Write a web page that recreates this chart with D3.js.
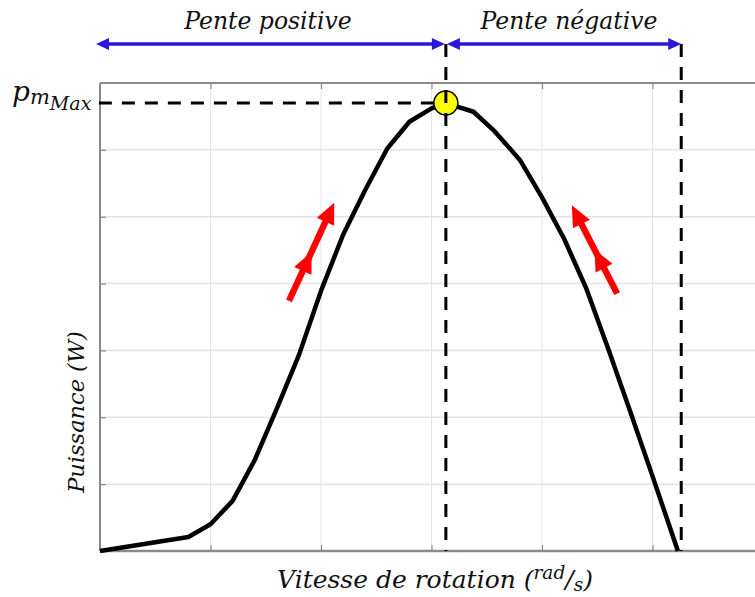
<!DOCTYPE html>
<html>
<head>
<meta charset="utf-8">
<script src="https://cdn.jsdelivr.net/npm/d3@7"></script>
<style>
  html, body { margin: 0; padding: 0; background: #fff; }
  svg { display: block; }
  .lbl { font-family: "DejaVu Serif", serif; font-style: italic; fill: #111; }
</style>
</head>
<body>
<svg id="chart" width="755" height="597"></svg>
<script>
// Power curve P(ω), rotation speed in arbitrary units
const speed = [0, 0.8, 1.0, 1.2, 1.4, 1.6, 1.8, 2.0, 2.2, 2.4, 2.6, 2.8, 3.0, 3.13, 3.38, 3.57, 3.8, 4.0, 4.2, 4.4, 4.6, 4.8, 5.0, 5.23];
const power = [0, 0.21, 0.40, 0.75, 1.36, 2.13, 2.93, 3.89, 4.73, 5.40, 6.02, 6.42, 6.62, 6.70, 6.57, 6.28, 5.85, 5.29, 4.67, 3.93, 3.02, 2.08, 1.12, 0];

// Maximum power point and the end of the working range
const peakSpeed = 3.13;
const peakPower = 6.70;
const endSpeed = 5.26;

// Grid ticks
const xTicks = [1, 2, 3, 4, 5];
const yTicks = [1, 2, 3, 4, 5, 6];

// Region labels above the plot
const regions = ["Pente positive", "Pente négative"];

// Direction arrows along the curve: [tailX, tailY, headX, headY] in data units
const climbArrows = [
  [1.71, 3.74, 2.12, 5.21],
  [4.68, 3.85, 4.27, 5.17]
];

const svg = d3.select("#chart");
const x = d3.scaleLinear().domain([0, 6]).range([100, 763]);
const y = d3.scaleLinear().domain([0, 7]).range([551, 83]);
const x0 = x(0), x1 = x(6), yTop = y(7), yBot = y(0);

// grid
const g = svg.append("g");
g.selectAll("line.vg").data(xTicks).join("line")
  .attr("x1", d => x(d)).attr("x2", d => x(d))
  .attr("y1", yTop).attr("y2", yBot)
  .attr("stroke", "#e3e3e3").attr("stroke-width", 1);
g.selectAll("line.hg").data(yTicks).join("line")
  .attr("x1", x0).attr("x2", x1)
  .attr("y1", d => y(d)).attr("y2", d => y(d))
  .attr("stroke", "#e3e3e3").attr("stroke-width", 1.5);

// axes frame with inward ticks
const axisColor = "#8a8a8a";
const axLeft = d3.axisLeft(y).tickValues(yTicks).tickSize(-6).tickFormat("");
const axBottom = d3.axisBottom(x).tickValues(xTicks).tickSize(-6).tickFormat("");
const axTop = d3.axisTop(x).tickValues(xTicks).tickSize(-6).tickFormat("");
[
  svg.append("g").attr("transform", `translate(${x0},0)`).call(axLeft),
  svg.append("g").attr("transform", `translate(0,${yBot})`).call(axBottom),
  svg.append("g").attr("transform", `translate(0,${yTop})`).call(axTop)
].forEach(a => {
  a.select(".domain").remove();
  a.selectAll("line").attr("stroke", axisColor).attr("stroke-width", 1.2);
});
svg.append("line").attr("x1", x0).attr("x2", x0).attr("y1", yTop).attr("y2", yBot)
  .attr("stroke", axisColor).attr("stroke-width", 2);
svg.append("line").attr("x1", x0).attr("x2", x1).attr("y1", yTop).attr("y2", yTop)
  .attr("stroke", axisColor).attr("stroke-width", 2);
svg.append("line").attr("x1", x0).attr("x2", x1).attr("y1", yBot).attr("y2", yBot)
  .attr("stroke", axisColor).attr("stroke-width", 2.5);

// power curve
const pts = speed.map((s, i) => [s, power[i]]);
svg.append("path")
  .datum(pts)
  .attr("d", d3.line().x(d => x(d[0])).y(d => y(d[1])))
  .attr("fill", "none").attr("stroke", "#000").attr("stroke-width", 4.5)
  .attr("stroke-linejoin", "round");

// red direction arrows with two heads each
function drawClimbArrow([tx, ty, hx, hy]) {
  const ax = x(tx), ay = y(ty), bx = x(hx), by = y(hy);
  const dx = bx - ax, dy = by - ay, len = Math.hypot(dx, dy);
  const ux = dx / len, uy = dy / len, nx = -uy, ny = ux;
  const headL = 21, headW = 9.5, shaft = 3.2;
  const grp = svg.append("g").attr("fill", "#ff0000");
  const sEnd = len - headL + 2;
  grp.append("polygon").attr("points", [
    [ax + nx * shaft, ay + ny * shaft],
    [ax + ux * sEnd + nx * shaft, ay + uy * sEnd + ny * shaft],
    [ax + ux * sEnd - nx * shaft, ay + uy * sEnd - ny * shaft],
    [ax - nx * shaft, ay - ny * shaft]
  ].map(p => p.join(",")).join(" "));
  [len * 0.5, len].forEach(t => {
    const px = ax + ux * t, py = ay + uy * t;
    const bxp = px - ux * headL, byp = py - uy * headL;
    grp.append("polygon").attr("points", [
      [px, py],
      [bxp + nx * headW, byp + ny * headW],
      [bxp - nx * headW, byp - ny * headW]
    ].map(p => p.join(",")).join(" "));
  });
}
climbArrows.forEach(drawClimbArrow);

// maximum power point marker
svg.append("circle")
  .attr("cx", x(peakSpeed)).attr("cy", y(peakPower)).attr("r", 12)
  .attr("fill", "#ffff00").attr("stroke", "#000").attr("stroke-width", 1.5);

// dashed guide lines
const yArrow = 44;
const dash = "13,10";
svg.append("line")
  .attr("x1", x(peakSpeed) - 12).attr("x2", x0 - 5)
  .attr("y1", y(peakPower)).attr("y2", y(peakPower))
  .attr("stroke", "#000").attr("stroke-width", 3).attr("stroke-dasharray", dash);
svg.append("line")
  .attr("x1", x(peakSpeed)).attr("x2", x(peakSpeed))
  .attr("y1", yArrow).attr("y2", yBot)
  .attr("stroke", "#000").attr("stroke-width", 3).attr("stroke-dasharray", dash);
svg.append("line")
  .attr("x1", x(endSpeed)).attr("x2", x(endSpeed))
  .attr("y1", yArrow).attr("y2", yBot)
  .attr("stroke", "#000").attr("stroke-width", 3).attr("stroke-dasharray", dash);

// blue double-headed span arrows
const blue = "#2a17d9";
function span(xa, xb) {
  const grp = svg.append("g");
  grp.append("line").attr("x1", xa + 8).attr("x2", xb - 8)
    .attr("y1", yArrow).attr("y2", yArrow)
    .attr("stroke", blue).attr("stroke-width", 3.5);
  const hl = 13, hw = 6;
  grp.append("polygon").attr("fill", blue)
    .attr("points", `${xa},${yArrow} ${xa + hl},${yArrow - hw} ${xa + hl},${yArrow + hw}`);
  grp.append("polygon").attr("fill", blue)
    .attr("points", `${xb},${yArrow} ${xb - hl},${yArrow - hw} ${xb - hl},${yArrow + hw}`);
}
span(x0 - 4, x(peakSpeed) - 1);
span(x(peakSpeed) + 1, x(endSpeed));

svg.append("text").attr("class", "lbl")
  .attr("x", 268).attr("y", 29)
  .attr("text-anchor", "middle").attr("font-size", 23.5)
  .text(regions[0]);
svg.append("text").attr("class", "lbl")
  .attr("x", 569).attr("y", 29)
  .attr("text-anchor", "middle").attr("font-size", 23.5)
  .text(regions[1]);

// p_{m_{Max}} label
const pl = svg.append("text").attr("class", "lbl")
  .attr("x", 12).attr("y", 101).attr("font-size", 28);
pl.append("tspan").text("p");
pl.append("tspan").attr("font-size", 21).attr("dy", 3).text("m");
pl.append("tspan").attr("font-size", 19).attr("dy", 6).text("Max");

// x axis title
const xl = svg.append("text").attr("class", "lbl")
  .attr("x", 435).attr("y", 588).attr("text-anchor", "middle").attr("font-size", 25);
xl.append("tspan").text("Vitesse de rotation (");
xl.append("tspan").attr("font-size", 18.5).attr("dy", -9).text("rad");
xl.append("tspan").attr("font-size", 25).attr("dy", 9).text("/");
xl.append("tspan").attr("font-size", 18.5).attr("dy", 3).text("s");
xl.append("tspan").attr("font-size", 25).attr("dy", -3).text(")");

// y axis title
svg.append("text").attr("class", "lbl")
  .attr("transform", "translate(84,412) rotate(-90)")
  .attr("text-anchor", "middle").attr("font-size", 22.5)
  .text("Puissance (W)");
</script>
</body>
</html>
